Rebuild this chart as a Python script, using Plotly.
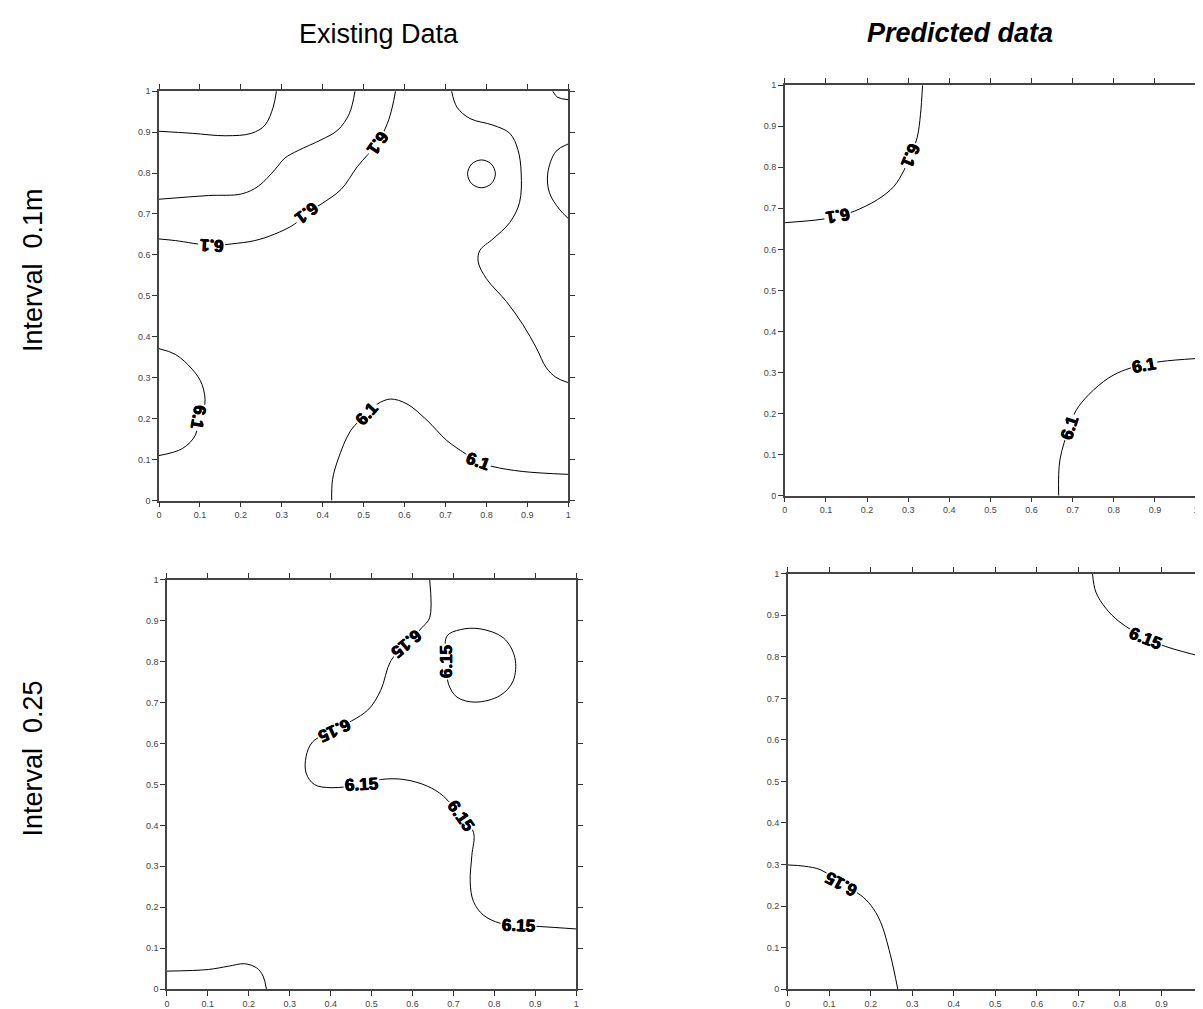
import plotly.graph_objects as go

# ---------------- data: contour lines (x, y) ----------------
# Panel 1: Existing Data, interval 0.1m
p1_a = [(0, 0.902), (0.081, 0.897), (0.162, 0.891), (0.226, 0.897), (0.259, 0.917), (0.279, 0.961), (0.287, 1.0)]
p1_b = [(0, 0.736), (0.121, 0.745), (0.202, 0.749), (0.243, 0.768), (0.283, 0.808), (0.307, 0.836),
        (0.340, 0.855), (0.396, 0.881), (0.437, 0.905), (0.465, 0.945), (0.479, 1.0)]
p1_c = [(0, 0.639), (0.040, 0.635), (0.129, 0.623), (0.178, 0.627), (0.234, 0.635), (0.283, 0.651),
        (0.331, 0.675), (0.361, 0.702), (0.396, 0.724), (0.445, 0.760), (0.485, 0.816), (0.534, 0.874),
        (0.558, 0.921), (0.570, 0.961), (0.578, 1.0)]
p1_d = [(0.715, 1.0), (0.728, 0.961), (0.760, 0.933), (0.816, 0.917), (0.857, 0.897), (0.877, 0.857),
        (0.885, 0.800), (0.881, 0.728), (0.857, 0.679), (0.816, 0.639), (0.784, 0.611), (0.780, 0.583),
        (0.800, 0.542), (0.849, 0.486), (0.889, 0.430), (0.922, 0.373), (0.946, 0.325), (0.970, 0.301),
        (1.0, 0.288)]
p1_e = [(0.788, 0.832), (0.812, 0.822), (0.822, 0.798), (0.812, 0.774), (0.788, 0.764), (0.764, 0.774),
        (0.754, 0.798), (0.764, 0.822), (0.788, 0.832)]
p1_f = [(1.0, 0.871), (0.970, 0.853), (0.950, 0.800), (0.954, 0.752), (0.978, 0.712), (1.0, 0.689)]
p1_g = [(0.962, 1.0), (0.974, 0.985), (1.0, 0.979)]
p1_h = [(0, 0.371), (0.040, 0.357), (0.081, 0.321), (0.105, 0.284), (0.112, 0.236), (0.097, 0.204),
        (0.089, 0.160), (0.057, 0.127), (0, 0.110)]
p1_i = [(0.422, 0), (0.424, 0.051), (0.437, 0.099), (0.469, 0.172), (0.509, 0.212), (0.534, 0.236),
        (0.566, 0.248), (0.606, 0.236), (0.655, 0.196), (0.703, 0.147), (0.748, 0.115), (0.780, 0.095),
        (0.816, 0.083), (0.889, 0.071), (1.0, 0.064)]
p1_label_x = [0.129, 0.361, 0.534, 0.097, 0.509, 0.780]
p1_label_y = [0.623, 0.702, 0.874, 0.204, 0.212, 0.095]
p1_label_text = ["6.1", "6.1", "6.1", "6.1", "6.1", "6.1"]

# Panel 2: Predicted data, interval 0.1m
p2_a = [(0, 0.665), (0.088, 0.673), (0.129, 0.681), (0.169, 0.693), (0.225, 0.721), (0.265, 0.753),
        (0.290, 0.793), (0.306, 0.829), (0.322, 0.873), (0.330, 0.929), (0.335, 1.0)]
p2_b = [(0.666, 0), (0.669, 0.087), (0.692, 0.167), (0.708, 0.207), (0.740, 0.247), (0.788, 0.287),
        (0.829, 0.307), (0.873, 0.319), (0.917, 0.327), (1.0, 0.334)]
p2_label_x = [0.129, 0.306, 0.692, 0.873]
p2_label_y = [0.681, 0.829, 0.167, 0.318]
p2_label_text = ["6.1", "6.1", "6.1", "6.1"]

# Panel 3: Existing Data, interval 0.25
p3_a = [(0.642, 1.0), (0.642, 0.907), (0.623, 0.883), (0.585, 0.844), (0.547, 0.802), (0.522, 0.729),
        (0.490, 0.681), (0.409, 0.633), (0.356, 0.604), (0.340, 0.568), (0.340, 0.528), (0.360, 0.500),
        (0.401, 0.492), (0.475, 0.500), (0.522, 0.512), (0.579, 0.512), (0.636, 0.496), (0.676, 0.471),
        (0.717, 0.423), (0.749, 0.383), (0.745, 0.326), (0.741, 0.262), (0.749, 0.214), (0.773, 0.181),
        (0.814, 0.161), (0.858, 0.156), (0.911, 0.153), (1.0, 0.147)]
p3_b = [(0.684, 0.862), (0.717, 0.878), (0.765, 0.880), (0.822, 0.858), (0.850, 0.810), (0.846, 0.753),
        (0.814, 0.717), (0.753, 0.701), (0.709, 0.713), (0.688, 0.745), (0.683, 0.800), (0.684, 0.862)]
p3_c = [(0, 0.044), (0.101, 0.048), (0.150, 0.056), (0.190, 0.062), (0.219, 0.052), (0.235, 0.032), (0.243, 0)]
p3_label_x = [0.585, 0.409, 0.475, 0.717, 0.858, 0.683]
p3_label_y = [0.844, 0.633, 0.500, 0.423, 0.156, 0.800]
p3_label_text = ["6.15", "6.15", "6.15", "6.15", "6.15", "6.15"]

# Panel 4: Predicted data, interval 0.25
p4_a = [(0, 0.299), (0.040, 0.296), (0.080, 0.287), (0.128, 0.254), (0.176, 0.226), (0.200, 0.202),
        (0.223, 0.163), (0.247, 0.083), (0.265, 0)]
p4_b = [(0.734, 1.0), (0.742, 0.956), (0.766, 0.917), (0.798, 0.885), (0.862, 0.845), (0.910, 0.825),
        (0.950, 0.813), (1.0, 0.800)]
p4_label_x = [0.128, 0.862]
p4_label_y = [0.254, 0.845]
p4_label_text = ["6.15", "6.15"]

tick_values = [0, 0.1, 0.2, 0.3, 0.4, 0.5, 0.6, 0.7, 0.8, 0.9, 1]

col_titles = ["Existing Data", "<b><i>Predicted data</i></b>"]
row_titles = ["Interval  0.1m", "Interval  0.25"]

# ---------------- figure ----------------
# the page body adds an 8px margin, so the figure is laid out 8px up/left
OFF = 8
W, H = 1203 - OFF, 1009 - OFF
FONT = "Liberation Sans, Arial, sans-serif"
fig = go.Figure()

panels = [
    ("x", "y", [p1_a, p1_b, p1_c, p1_d, p1_e, p1_f, p1_g, p1_h, p1_i],
     p1_label_x, p1_label_y, p1_label_text, [183, 143, 125, 100, -48, 20]),
    ("x2", "y2", [p2_a, p2_b], p2_label_x, p2_label_y, p2_label_text, [170, 112, -72, -10]),
    ("x3", "y3", [p3_a, p3_b, p3_c], p3_label_x, p3_label_y, p3_label_text, [140, 155, -3, 55, 2, -90]),
    ("x4", "y4", [p4_a, p4_b], p4_label_x, p4_label_y, p4_label_text, [208, 22]),
]

annotations = []
for xa, ya, lines, lx, ly, lt, angles in panels:
    for ln in lines:
        fig.add_trace(go.Scatter(
            x=[p[0] for p in ln], y=[p[1] for p in ln], mode="lines",
            line=dict(color="black", width=1, shape="spline", smoothing=1.0),
            xaxis=xa, yaxis=ya, hoverinfo="skip", showlegend=False, cliponaxis=True))
    for x, y, t, a in zip(lx, ly, lt, angles):
        annotations.append(dict(
            x=x, y=y, xref=xa, yref=ya, text="<b>" + t + "</b>", showarrow=False,
            textangle=a, bgcolor="white", borderpad=1,
            font=dict(family=FONT, size=17, color="black",
                      shadow="0.5px 0 0 black, -0.5px 0 0 black, 0 0.5px 0 black")))


def xdom(left, right):
    return [(left - OFF) / W, min(1.0, (right - OFF) / W)]


def ydom(top, bottom):
    return [1 - (bottom - OFF) / H, 1 - (top - OFF) / H]


def px(xp, yp):
    return (xp - OFF) / W, 1 - (yp - OFF) / H


def axis(domain, rng, anchor, mirror="ticks"):
    return dict(domain=domain, range=rng, anchor=anchor, showgrid=False, zeroline=False,
                showline=True, linecolor="#444", linewidth=1.5, mirror=mirror,
                ticks="outside", ticklen=5, tickwidth=1, tickcolor="#333",
                tickvals=tick_values, ticktext=[("%g" % v) for v in tick_values],
                tickfont=dict(family=FONT, size=9, color="#444"),
                fixedrange=True)


# panel 4 extends past the right edge of the picture
p4_left = 790
p4_unit = 418.0
p4_xmax = (1203 - p4_left) / p4_unit

fig.update_layout(
    width=W, height=H, margin=dict(l=0, r=0, t=0, b=0),
    paper_bgcolor="white", plot_bgcolor="white",
    xaxis=axis(xdom(157, 569), [0, 1], "y"),
    yaxis=axis(ydom(87, 501), [0, 1], "x"),
    xaxis2=axis(xdom(787, 1201), [0, 1], "y2"),
    yaxis2=axis(ydom(81, 496), [0, 1], "x2"),
    xaxis3=axis(xdom(165, 577), [0, 1], "y3"),
    yaxis3=axis(ydom(581, 995), [0, 1], "x3"),
    xaxis4=axis(xdom(p4_left, 1203), [0, p4_xmax], "y4"),
    yaxis4=axis(ydom(575, 995), [0, 1], "x4", mirror=False),
)

# column and row titles
for (xp, yp), txt, ang in [((378, 29), col_titles[0], 0),
                           ((963, 28), col_titles[1], 0),
                           ((30, 268), row_titles[0], -90),
                           ((30, 762), row_titles[1], -90)]:
    xx, yy = px(xp, yp)
    annotations.append(dict(x=xx, y=yy, xref="paper", yref="paper", text=txt, textangle=ang,
                            xanchor="center", yanchor="middle", showarrow=False,
                            font=dict(family=FONT, size=27, color="black")))

fig.update_layout(annotations=annotations)
fig.write_html("out.html")
